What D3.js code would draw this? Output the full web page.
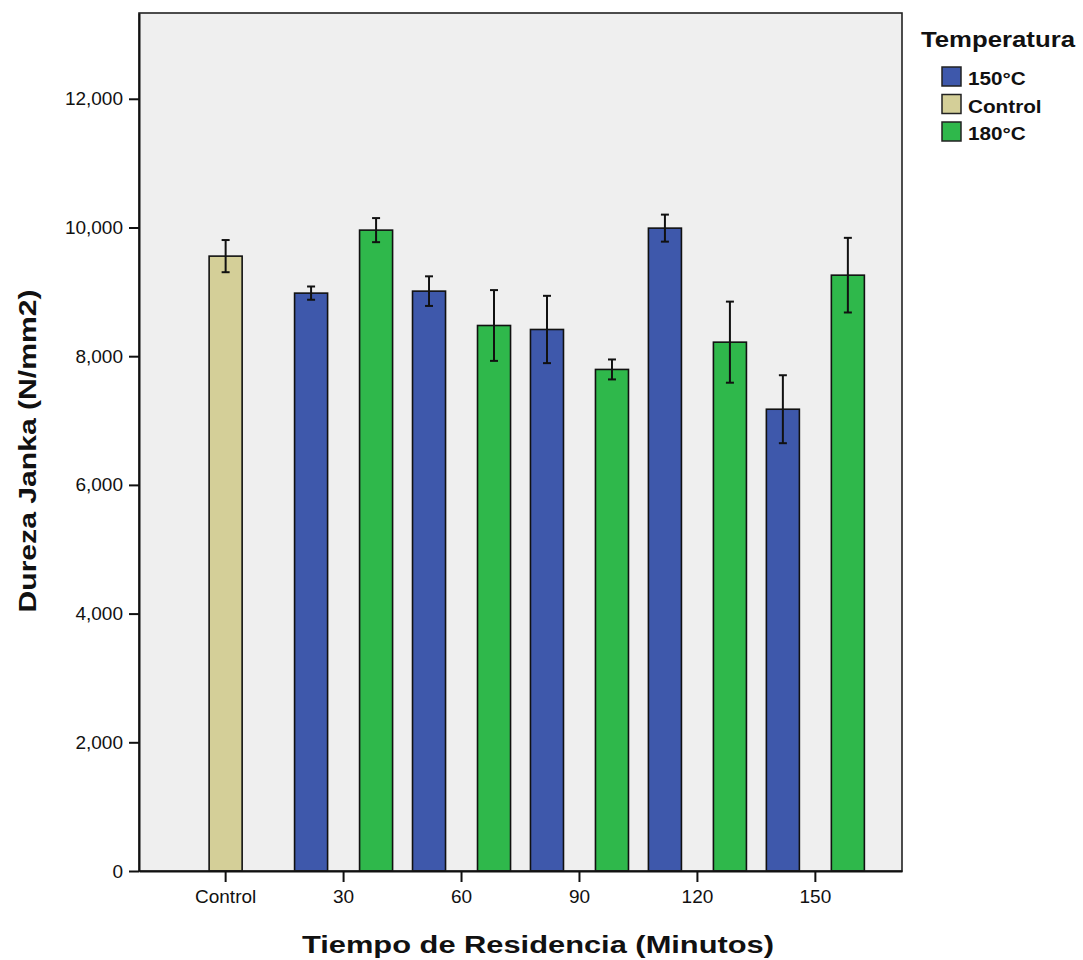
<!DOCTYPE html>
<html>
<head>
<meta charset="utf-8">
<script src="https://cdn.jsdelivr.net/npm/d3@7/dist/d3.min.js"></script>
<style>
  html, body { margin: 0; padding: 0; background: #ffffff; }
  svg { display: block; font-family: "Liberation Sans", Arial, sans-serif; }
</style>
</head>
<body>
<svg id="chart" width="1083" height="960"></svg>
<script>
// Categories on the x axis (residence time in minutes)
const categories = ["Control", "30", "60", "90", "120", "150"];
// Temperature groups, in legend order
const series = ["150°C", "Control", "180°C"];
// Mean Janka hardness (N/mm2) per category for each group; null = no bar
const meanControl = [9555, null, null, null, null, null];
const mean150 = [null, 8980, 9011, 8415, 9990, 7176];
const mean180 = [null, 9959, 8477, 7794, 8218, 9259];
// Error bar half-widths (N/mm2)
const errControl = [250, null, null, null, null, null];
const err150 = [null, 103, 230, 523, 210, 528];
const err180 = [null, 187, 550, 155, 630, 580];
// Y axis tick values
const yTicks = [0, 2000, 4000, 6000, 8000, 10000, 12000];

const colors = { "150°C": "#3e58ab", "Control": "#d4cf98", "180°C": "#2fb84b" };

const svg = d3.select("#chart");
const plot = { left: 139, right: 902, top: 13, bottom: 871 };

const x = d3.scaleBand()
  .domain(categories)
  .range([plot.left, plot.right])
  .paddingInner(0.169)
  .paddingOuter(0.319);

const y = d3.scaleLinear()
  .domain([0, 13333])
  .range([plot.bottom, plot.top]);

// Position of the two temperature bars inside a time group
const inner = d3.scaleBand()
  .domain(["150°C", "180°C"])
  .range([0, x.bandwidth()])
  .paddingInner(0.492);
const barW = inner.bandwidth();

// Assemble bar records from the arrays
const bars = [];
const seriesData = [
  { key: "Control", means: meanControl, errs: errControl },
  { key: "150°C", means: mean150, errs: err150 },
  { key: "180°C", means: mean180, errs: err180 }
];
seriesData.forEach(s => {
  categories.forEach((c, i) => {
    if (s.means[i] == null) return;
    const cx = s.key === "Control"
      ? x(c) + x.bandwidth() / 2
      : x(c) + inner(s.key) + barW / 2;
    bars.push({ key: s.key, cat: c, value: s.means[i], err: s.errs[i], cx });
  });
});

// Plot background
svg.append("rect")
  .attr("x", plot.left).attr("y", plot.top)
  .attr("width", plot.right - plot.left).attr("height", plot.bottom - plot.top)
  .attr("fill", "#efefef");

// Bars
svg.append("g").selectAll("rect")
  .data(bars)
  .join("rect")
  .attr("x", d => d.cx - barW / 2)
  .attr("y", d => y(d.value))
  .attr("width", barW)
  .attr("height", d => y(0) - y(d.value))
  .attr("fill", d => colors[d.key])
  .attr("stroke", "#111")
  .attr("stroke-width", 1.6);

// Error bars
const eb = svg.append("g").attr("stroke", "#111").attr("stroke-width", 2);
bars.forEach(d => {
  const top = y(d.value + d.err), bot = y(d.value - d.err);
  eb.append("line").attr("x1", d.cx).attr("x2", d.cx).attr("y1", top).attr("y2", bot);
  eb.append("line").attr("x1", d.cx - 4).attr("x2", d.cx + 4).attr("y1", top).attr("y2", top);
  eb.append("line").attr("x1", d.cx - 4).attr("x2", d.cx + 4).attr("y1", bot).attr("y2", bot);
});

// Plot frame
svg.append("rect")
  .attr("x", plot.left).attr("y", plot.top)
  .attr("width", plot.right - plot.left).attr("height", plot.bottom - plot.top)
  .attr("fill", "none").attr("stroke", "#222").attr("stroke-width", 1.6);

// Y axis
const yAxis = svg.append("g")
  .attr("transform", `translate(${plot.left},0)`)
  .call(d3.axisLeft(y).tickValues(yTicks).tickFormat(d3.format(","))
    .tickSize(10).tickSizeOuter(0).tickPadding(6));
yAxis.select(".domain").attr("stroke", "#111").attr("stroke-width", 2);
yAxis.selectAll(".tick line").attr("stroke", "#111").attr("stroke-width", 2);
yAxis.selectAll(".tick text").attr("font-size", 19).attr("fill", "#111")
  .attr("font-family", "Liberation Sans, Arial, sans-serif");

// X axis
const xAxis = svg.append("g")
  .attr("transform", `translate(0,${plot.bottom})`)
  .call(d3.axisBottom(x).tickSize(11).tickSizeOuter(0).tickPadding(8));
xAxis.select(".domain").attr("stroke", "#111").attr("stroke-width", 2);
xAxis.selectAll(".tick line").attr("stroke", "#111").attr("stroke-width", 2);
xAxis.selectAll(".tick text").attr("font-size", 19).attr("fill", "#111")
  .attr("font-family", "Liberation Sans, Arial, sans-serif");

// Axis titles
svg.append("text")
  .attr("x", 302).attr("y", 953)
  .attr("font-size", 23).attr("font-weight", "bold").attr("fill", "#111")
  .attr("textLength", 472).attr("lengthAdjust", "spacingAndGlyphs")
  .text("Tiempo de Residencia (Minutos)");

svg.append("text")
  .attr("transform", "translate(36,451) rotate(-90)")
  .attr("text-anchor", "middle")
  .attr("font-size", 23).attr("font-weight", "bold").attr("fill", "#111")
  .attr("textLength", 323).attr("lengthAdjust", "spacingAndGlyphs")
  .text("Dureza Janka (N/mm2)");

// Legend
const legend = svg.append("g");
legend.append("text")
  .attr("x", 921).attr("y", 47)
  .attr("font-size", 22).attr("font-weight", "bold").attr("fill", "#111")
  .attr("textLength", 154).attr("lengthAdjust", "spacingAndGlyphs")
  .text("Temperatura");

const items = legend.selectAll("g.item")
  .data(series)
  .join("g")
  .attr("class", "item")
  .attr("transform", (d, i) => `translate(942,${67 + i * 27.5})`);
items.append("rect")
  .attr("width", 19).attr("height", 19)
  .attr("fill", d => colors[d]).attr("stroke", "#222").attr("stroke-width", 1.5);
items.append("text")
  .attr("x", 26).attr("y", 18)
  .attr("font-size", 18).attr("font-weight", "bold").attr("fill", "#111")
  .text(d => d)
  .each(function () {
    const w = this.getComputedTextLength();
    d3.select(this).attr("textLength", w * 1.15).attr("lengthAdjust", "spacingAndGlyphs");
  });
</script>
</body>
</html>
